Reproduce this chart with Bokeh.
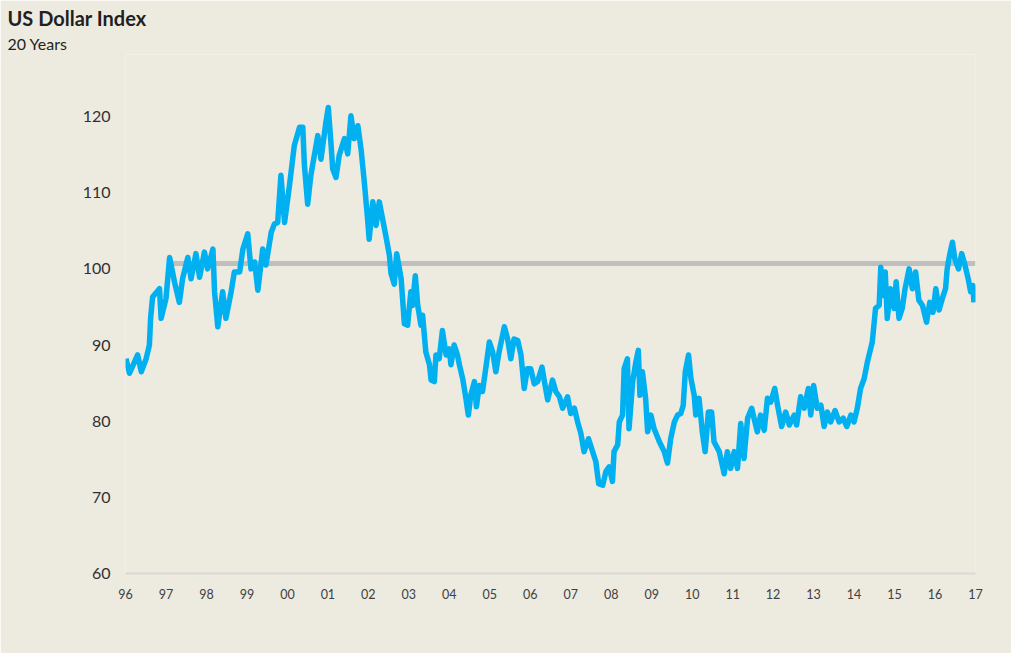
from bokeh.plotting import figure
from bokeh.models import FixedTicker, Range1d, Title
from bokeh.embed import file_html
from bokeh.resources import INLINE

TITLE = "US Dollar Index"
SUBTITLE = "20 Years"

years = [
    1996.51, 1996.60, 1996.80, 1996.89, 1997.01, 1997.09, 1997.12, 1997.17, 1997.34, 1997.38,
    1997.50, 1997.59, 1997.71, 1997.83, 1997.91, 1998.04, 1998.12, 1998.24, 1998.33, 1998.45,
    1998.53, 1998.66, 1998.70, 1998.78, 1998.90, 1998.98, 1999.11, 1999.19, 1999.32, 1999.40,
    1999.52, 1999.60, 1999.69, 1999.77, 1999.89, 1999.97, 2000.10, 2000.18, 2000.26, 2000.34,
    2000.43, 2000.55, 2000.67, 2000.80, 2000.88, 2000.92, 2001.00, 2001.08, 2001.25, 2001.33,
    2001.45, 2001.51, 2001.58, 2001.62, 2001.70, 2001.78, 2001.91, 2001.99, 2002.07, 2002.15,
    2002.24, 2002.32, 2002.40, 2002.48, 2002.52, 2002.61, 2002.69, 2002.77, 2002.85, 2002.93,
    2003.02, 2003.06, 2003.14, 2003.20, 2003.31, 2003.39, 2003.47, 2003.55, 2003.59, 2003.66,
    2003.72, 2003.80, 2003.84, 2003.92, 2004.01, 2004.05, 2004.13, 2004.17, 2004.25, 2004.33,
    2004.42, 2004.50, 2004.54, 2004.62, 2004.70, 2004.75, 2004.83, 2004.91, 2004.97, 2005.03,
    2005.12, 2005.17, 2005.24, 2005.32, 2005.40, 2005.49, 2005.57, 2005.65, 2005.73, 2005.86,
    2005.94, 2006.02, 2006.10, 2006.19, 2006.27, 2006.35, 2006.43, 2006.51, 2006.60, 2006.68,
    2006.79, 2006.85, 2006.93, 2007.05, 2007.13, 2007.22, 2007.30, 2007.42, 2007.50, 2007.59,
    2007.67, 2007.75, 2007.83, 2007.94, 2008.04, 2008.12, 2008.19, 2008.29, 2008.37, 2008.45,
    2008.53, 2008.57, 2008.66, 2008.70, 2008.78, 2008.82, 2008.90, 2008.94, 2009.03, 2009.11,
    2009.17, 2009.21, 2009.27, 2009.35, 2009.40, 2009.48, 2009.56, 2009.69, 2009.81, 2009.89,
    2009.97, 2010.06, 2010.14, 2010.22, 2010.28, 2010.33, 2010.41, 2010.47, 2010.55, 2010.59,
    2010.67, 2010.75, 2010.82, 2010.90, 2010.98, 2011.04, 2011.17, 2011.29, 2011.37, 2011.45,
    2011.54, 2011.62, 2011.70, 2011.78, 2011.87, 2011.97, 2012.11, 2012.19, 2012.28, 2012.36,
    2012.44, 2012.54, 2012.61, 2012.71, 2012.81, 2012.90, 2013.02, 2013.08, 2013.18, 2013.27,
    2013.37, 2013.43, 2013.50, 2013.59, 2013.68, 2013.76, 2013.84, 2013.92, 2014.03, 2014.13,
    2014.23, 2014.32, 2014.42, 2014.50, 2014.58, 2014.66, 2014.75, 2014.83, 2014.89, 2014.95,
    2014.99, 2015.03, 2015.12, 2015.16, 2015.22, 2015.27, 2015.32, 2015.40, 2015.49, 2015.54,
    2015.61, 2015.69, 2015.76, 2015.86, 2015.94, 2016.02, 2016.10, 2016.19, 2016.29, 2016.37,
    2016.45, 2016.52, 2016.60, 2016.68, 2016.76, 2016.80, 2016.86, 2016.93, 2016.99, 2017.08,
    2017.16, 2017.24, 2017.32, 2017.38, 2017.44, 2017.46,
]

dxy = [
    88.2, 86.3, 88.7, 86.5, 88.2, 90.0, 93.5, 96.3, 97.4, 93.5,
    96.1, 101.5, 98.3, 95.6, 98.7, 101.5, 98.7, 102.0, 98.9, 102.2,
    100.0, 102.6, 97.0, 92.4, 97.0, 93.5, 97.0, 99.6, 99.6, 102.6,
    104.6, 100.0, 100.9, 97.2, 102.6, 100.5, 104.8, 105.9, 106.1, 112.3,
    106.1, 110.9, 116.2, 118.6, 118.6, 113.6, 108.5, 112.3, 117.5, 114.4,
    119.2, 121.2, 116.2, 113.1, 112.0, 114.9, 117.1, 115.1, 120.1, 117.1,
    118.8, 115.7, 111.4, 106.6, 103.9, 108.8, 105.7, 108.8, 106.6, 104.4,
    101.8, 99.4, 98.0, 102.0, 98.7, 92.8, 92.6, 97.0, 95.2, 99.1,
    95.2, 92.6, 93.9, 89.1, 87.4, 85.4, 85.2, 88.7, 88.2, 91.9,
    88.7, 89.5, 87.4, 90.0, 88.7, 87.4, 85.6, 83.0, 80.8, 83.4,
    85.2, 81.9, 84.7, 83.9, 86.9, 90.4, 89.1, 86.5, 89.1, 92.4,
    90.8, 88.2, 90.8, 90.6, 88.7, 84.3, 86.9, 86.9, 84.9, 85.2,
    87.1, 85.2, 82.8, 85.4, 83.9, 83.2, 81.7, 83.2, 81.0, 81.7,
    79.9, 78.4, 76.0, 77.7, 76.0, 74.7, 71.8, 71.6, 73.4, 74.0,
    72.1, 76.0, 76.9, 79.9, 80.8, 86.9, 88.2, 79.0, 85.2, 87.8,
    89.3, 83.4, 86.5, 83.0, 78.6, 80.8, 79.0, 77.3, 76.0, 74.5,
    77.7, 79.9, 80.8, 81.0, 82.1, 86.5, 88.7, 85.6, 83.4, 80.8,
    83.0, 78.6, 76.0, 81.2, 81.2, 77.3, 76.0, 73.1, 76.0, 73.8,
    76.0, 73.8, 79.7, 75.1, 80.4, 81.7, 78.6, 80.8, 78.8, 83.0,
    82.5, 84.3, 82.1, 79.3, 81.2, 79.5, 80.8, 79.5, 83.2, 81.7,
    84.3, 80.8, 84.7, 81.7, 82.1, 79.3, 81.2, 79.9, 81.4, 79.9,
    80.4, 79.3, 80.8, 79.9, 81.7, 84.3, 85.6, 87.8, 89.1, 90.4,
    92.6, 94.8, 95.2, 100.2, 96.5, 99.6, 93.5, 97.4, 94.8, 98.3,
    93.5, 94.8, 97.4, 100.0, 97.4, 99.6, 95.9, 95.2, 93.0, 95.6,
    94.3, 97.4, 94.6, 96.1, 97.4, 100.0, 101.8, 103.5, 101.3, 100.0,
    102.0, 100.5, 98.7, 97.0, 97.8, 95.6,
]

avg_value = 100.7
avg_start = 1997.57
avg_end = 2017.5

tick_years = [1996.5 + i for i in range(22)]
tick_labels = ["96", "97", "98", "99", "00", "01", "02", "03", "04", "05", "06",
               "07", "08", "09", "10", "11", "12", "13", "14", "15", "16", "17"]
y_ticks = [60, 70, 80, 90, 100, 110, 120]

BG = "#EDEAE0"
FONT = "Lato"
W, H = 1011, 653
FRAME_L, FRAME_T, FRAME_B = 125, 54, 573

p = figure(width=W, height=H, output_backend="svg", toolbar_location=None,
           x_range=Range1d(1996.5, 2017.5), y_range=Range1d(60, 128.15),
           min_border_left=FRAME_L, min_border_right=36, min_border_top=FRAME_T,
           min_border_bottom=H - FRAME_B)
p.background_fill_color = BG
p.border_fill_color = BG
p.outline_line_color = None
p.xgrid.grid_line_color = None
p.ygrid.grid_line_color = None

# main title is outermost; subtitle sits between it and the frame
p.title.text = TITLE
p.title.align = "left"
p.title.offset = 7 - FRAME_L
p.title.text_font = FONT
p.title.text_font_size = "20px"
p.title.text_font_style = "bold"
p.title.text_color = "#231F20"
p.title.standoff = 0
p.add_layout(Title(text=SUBTITLE, align="left", offset=7 - FRAME_L, text_font=FONT,
                   text_font_size="16px", text_font_style="normal",
                   text_color="#231F20", standoff=4), "above")

p.line([avg_start, avg_end], [avg_value, avg_value], line_color="#BFBFBF", line_width=5)
p.line(years, dxy, line_color="#00B0F0", line_width=5.5, line_join="round")

p.xaxis.ticker = FixedTicker(ticks=tick_years)
p.xaxis.major_label_overrides = {t: l for t, l in zip(tick_years, tick_labels)}
p.xaxis.axis_line_color = "#DCD8D6"
p.xaxis.axis_line_width = 2
p.xaxis.major_tick_line_color = None
p.xaxis.minor_tick_line_color = None
p.xaxis.major_label_standoff = 9
p.xaxis.major_label_text_font = FONT
p.xaxis.major_label_text_font_size = "12.5px"
p.xaxis.major_label_text_color = "#404040"

p.yaxis.ticker = FixedTicker(ticks=y_ticks)
p.yaxis.axis_line_color = None
p.yaxis.major_tick_line_color = None
p.yaxis.minor_tick_line_color = None
p.yaxis.major_label_standoff = 9
p.yaxis.major_label_text_font = FONT
p.yaxis.major_label_text_font_size = "16px"
p.yaxis.major_label_text_color = "#303030"

open("out.html", "w").write(file_html(p, INLINE))
